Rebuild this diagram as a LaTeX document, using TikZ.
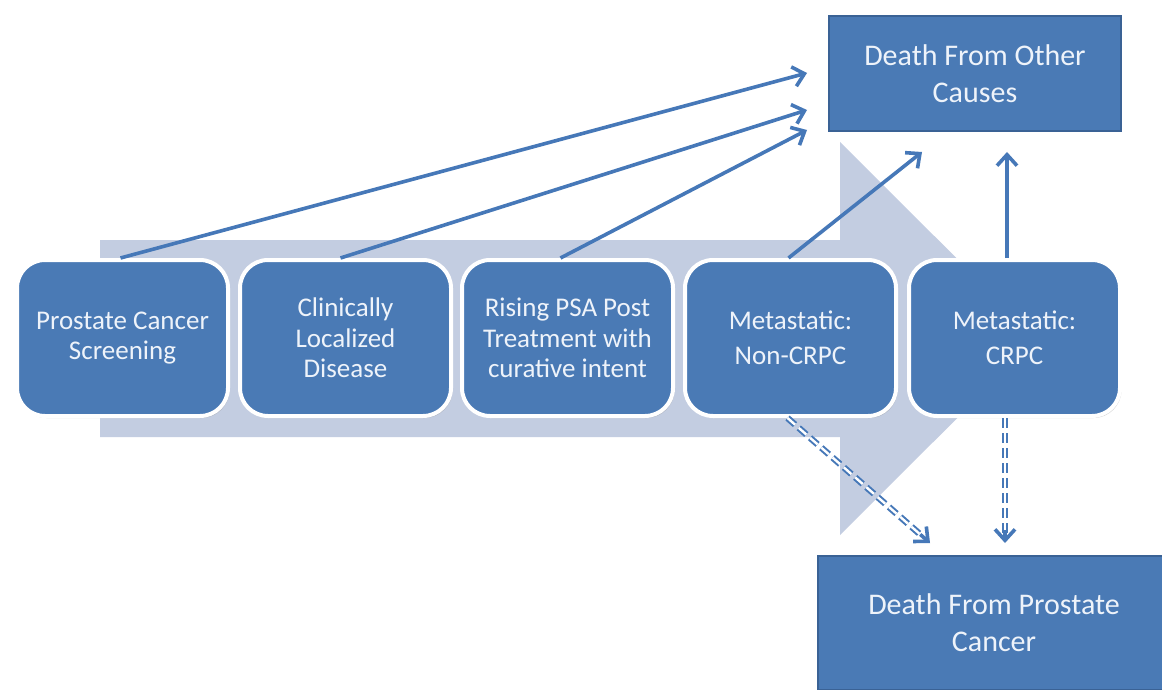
\documentclass[tikz,border=0pt]{standalone}
\usepackage{fontspec}
\setmainfont{Carlito}
\usetikzlibrary{arrows.meta,shadows,calc}
\definecolor{boxblue}{HTML}{4A7AB5}
\definecolor{boxedge}{HTML}{3A6295}
\definecolor{arrblue}{HTML}{4678B8}
\definecolor{bgarrow}{HTML}{C3CDE1}
\definecolor{txtlight}{HTML}{EEF3FA}
\tikzset{
  stage/.style={rectangle, rounded corners=28pt, fill=boxblue, draw=white, line width=4pt,
    minimum width=211pt, minimum height=156pt, align=center,
    text=txtlight, font=\fontsize{27}{30.5}\selectfont,
    drop shadow={opacity=0.35, shadow xshift=1.5pt, shadow yshift=-2pt}},
  outcome/.style={rectangle, fill=boxblue, draw=boxedge, line width=2pt, align=center,
    text=txtlight, font=\fontsize{30}{37}\selectfont},
  flow/.style={draw=arrblue, line width=3.6pt, -{Straight Barb[length=11pt,width=20pt]}},
  dbl/.style={draw=arrblue, line width=2pt, double=white, double distance=2.4pt,
    dash pattern=on 10pt off 5pt},
  tip/.style={draw=arrblue, line width=3.6pt, -{Straight Barb[length=11pt,width=20pt]}}
}
\begin{document}
\begin{tikzpicture}[x=1pt,y=-1pt]
\useasboundingbox (0,0) rectangle (1162,690);
\fill[white] (0,0) rectangle (1162,690);
% background process arrow
\fill[bgarrow] (100,240) -- (840,240) -- (840,142) -- (1037,338.5) -- (840,535) -- (840,437) -- (100,437) -- cycle;
% stage boxes
\node[stage] (b1) at (122.5,338) {Prostate Cancer\\Screening};
\node[stage] (b2) at (345.5,338) {Clinically\\Localized\\Disease};
\node[stage] (b3) at (567.5,338) {Rising PSA Post\\Treatment with\\curative intent};
\node[stage] (b4) at (790.5,338) {Metastatic:\\[4pt]Non-CRPC};
\node[stage] (b5) at (1014.5,338) {Metastatic:\\[4pt]CRPC};
% outcomes
\node[outcome, minimum width=292pt, minimum height=115pt] (dother) at (975,73.5) {Death From Other\\Causes};
\node[outcome, minimum width=352pt, minimum height=134pt] (dpca) at (994,623) {Death From Prostate\\Cancer};
% arrow end points
\coordinate (e1) at (807,73);
\coordinate (e2) at (807,110);
\coordinate (e3) at (807,130);
\coordinate (e4) at (922,152);
\coordinate (e5) at (1007,152);
\coordinate (f4) at (930,543);
\coordinate (f5) at (1005,543);
% solid arrows to death from other causes
\draw[flow] ([xshift=-2pt]b1.north) -- (e1);
\draw[flow] ([xshift=-5pt]b2.north) -- (e2);
\draw[flow] ([xshift=-7pt]b3.north) -- (e3);
\draw[flow] ([xshift=-2pt]b4.north) -- (e4);
\draw[flow] ([xshift=-7.5pt]b5.north) -- (e5);
% dashed double arrows to death from prostate cancer
\coordinate (s4) at ([xshift=-3pt]b4.south);
\coordinate (s5) at ([xshift=-9.5pt]b5.south);
\draw[dbl] (s4) -- ($(f4)!10pt!(s4)$);
\draw[tip] ($(f4)!13pt!(s4)$) -- (f4);
\draw[dbl] (s5) -- ($(f5)!10pt!(s5)$);
\draw[tip] ($(f5)!13pt!(s5)$) -- (f5);
\end{tikzpicture}
\end{document}
